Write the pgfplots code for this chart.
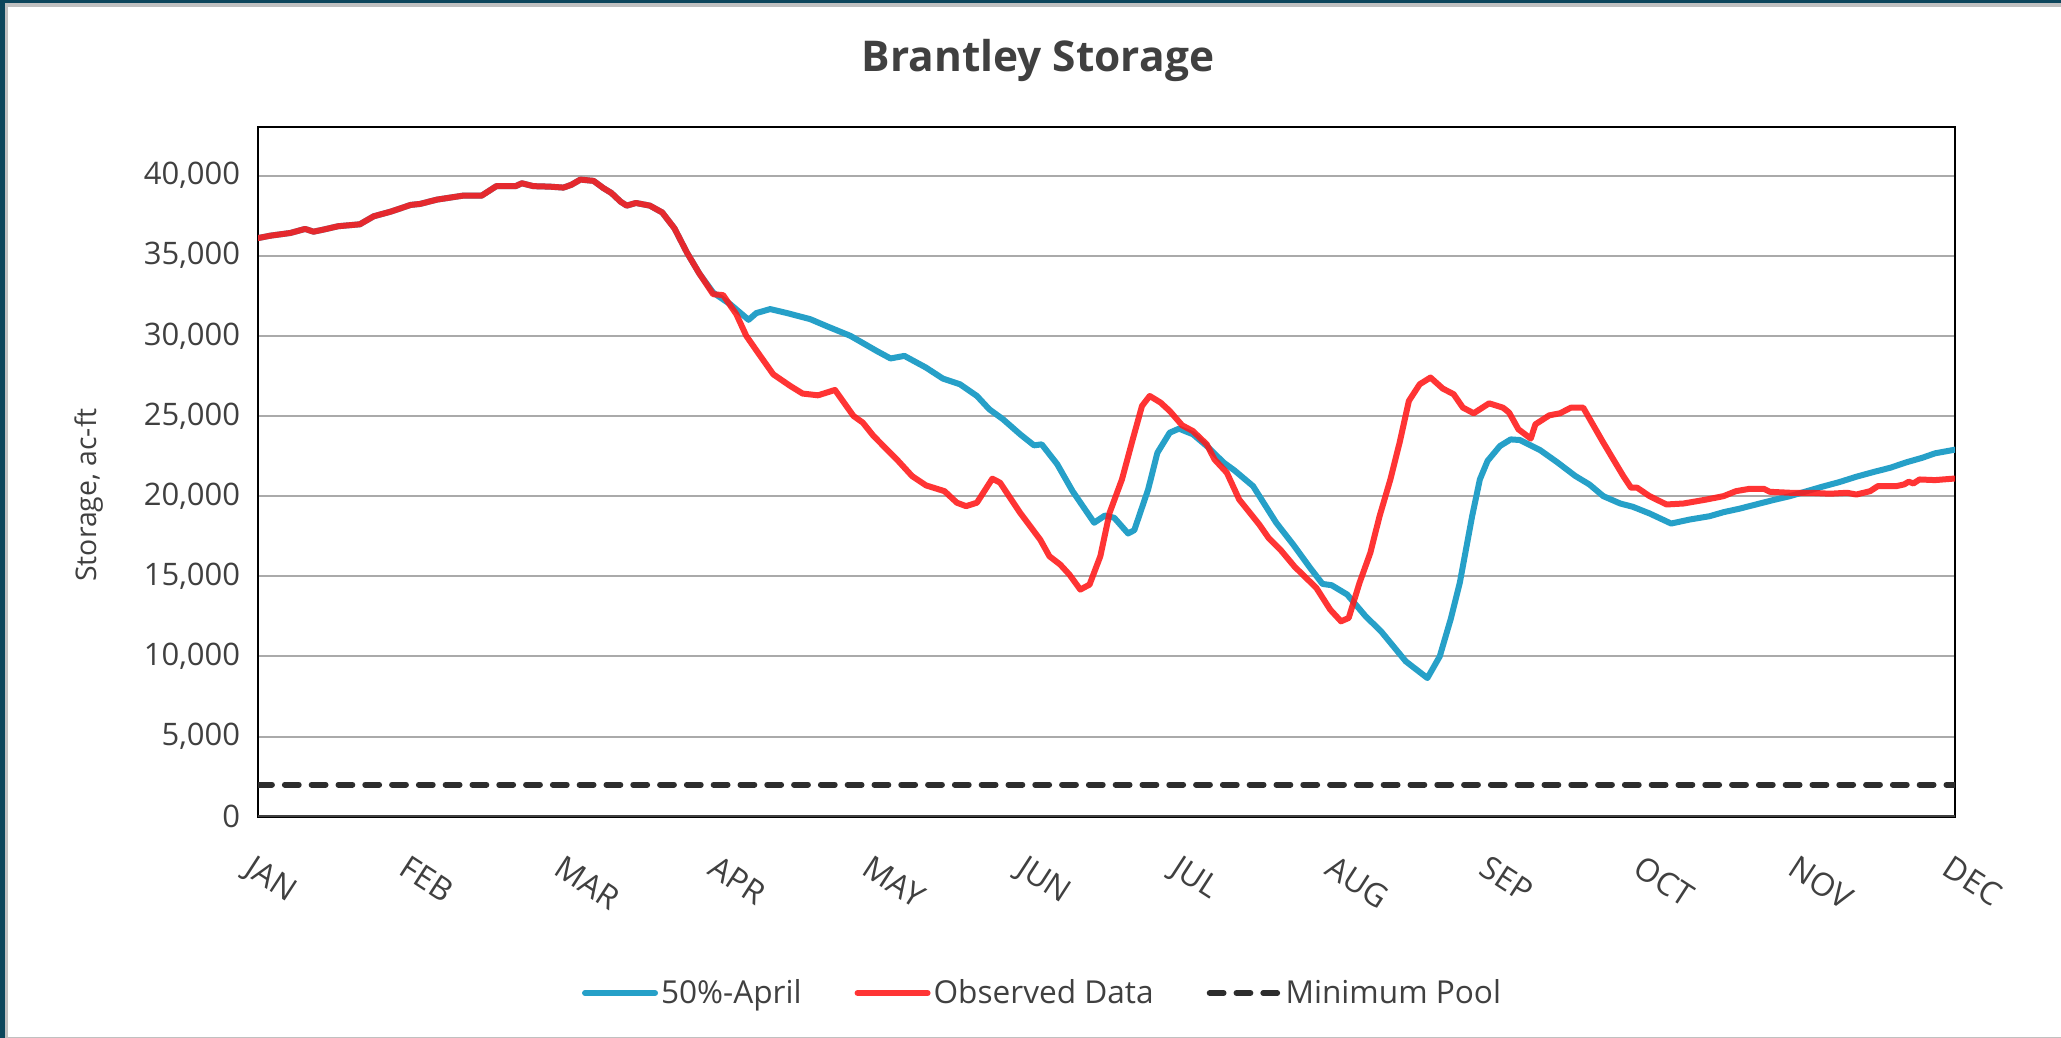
\documentclass[border=0pt]{standalone}
\usepackage{fontspec}
\setmainfont{Open Sans}
\usepackage{pgfplots}
\usepackage{pgfplotstable}
\pgfplotsset{compat=1.18}
\definecolor{bluel}{RGB}{38,160,200}
\definecolor{redl}{RGB}{255,25,25}
\definecolor{txt}{RGB}{64,64,64}
\definecolor{framec}{RGB}{12,70,92}
\definecolor{gridc}{RGB}{170,170,170}
\definecolor{innerc}{RGB}{192,192,192}

\pgfplotstableread{
m v
0 36100
0.08 36250
0.21 36420
0.305 36670
0.36 36500
0.42 36620
0.52 36840
0.66 36960
0.75 37460
0.86 37750
0.99 38170
1.05 38230
1.16 38500
1.33 38750
1.45 38750
1.545 39340
1.67 39340
1.71 39520
1.785 39340
1.89 39310
1.98 39250
2.03 39420
2.09 39750
2.175 39670
2.24 39210
2.29 38920
2.35 38375
2.39 38125
2.45 38290
2.54 38125
2.62 37700
2.70 36700
2.78 35200
2.86 33900
2.95 32600
3.015 32540
3.10 31360
3.165 30000
3.24 28960
3.34 27600
3.45 26875
3.53 26400
3.63 26290
3.74 26625
3.86 25000
3.92 24590
3.99 23750
4.14 22300
4.24 21250
4.33 20670
4.45 20310
4.53 19590
4.59 19375
4.66 19590
4.76 21090
4.81 20840
4.94 18960
5.07 17290
5.13 16250
5.20 15730
5.26 15100
5.33 14170
5.39 14480
5.46 16250
5.52 18960
5.60 21040
5.67 23540
5.73 25625
5.78 26250
5.85 25840
5.91 25310
5.99 24420
6.06 24060
6.15 23230
6.20 22290
6.28 21460
6.36 19790
6.49 18230
6.55 17400
6.63 16625
6.72 15590
6.86 14275
6.95 12920
7.02 12190
7.07 12400
7.14 14590
7.21 16460
7.27 18750
7.34 21040
7.40 23340
7.46 25940
7.53 26980
7.60 27400
7.68 26710
7.75 26360
7.81 25525
7.88 25170
7.98 25790
8.07 25520
8.11 25210
8.17 24170
8.25 23590
8.28 24480
8.37 25040
8.44 25170
8.51 25520
8.59 25520
8.72 23340
8.85 21250
8.90 20525
8.94 20525
9.02 20000
9.13 19480
9.24 19540
9.39 19790
9.50 20000
9.58 20310
9.67 20460
9.76 20460
9.80 20270
9.93 20210
10.06 20210
10.19 20150
10.30 20210
10.36 20100
10.45 20310
10.50 20625
10.62 20625
10.67 20730
10.70 20900
10.73 20790
10.77 21040
10.87 21000
11.0 21100
}\observed

\pgfplotstableread{
m v
0 36100
0.08 36250
0.21 36420
0.305 36670
0.36 36500
0.42 36620
0.52 36840
0.66 36960
0.75 37460
0.86 37750
0.99 38170
1.05 38230
1.16 38500
1.33 38750
1.45 38750
1.545 39340
1.67 39340
1.71 39520
1.785 39340
1.89 39310
1.98 39250
2.03 39420
2.09 39750
2.175 39670
2.24 39210
2.29 38920
2.35 38375
2.39 38125
2.45 38290
2.54 38125
2.62 37700
2.70 36700
2.78 35200
2.86 33900
2.95 32700
3.06 31980
3.18 31000
3.23 31420
3.32 31670
3.43 31420
3.58 31040
3.69 30590
3.84 30000
4.01 29060
4.10 28590
4.19 28750
4.33 28020
4.44 27330
4.55 26980
4.66 26250
4.74 25420
4.83 24790
4.94 23860
5.03 23170
5.08 23230
5.18 22000
5.28 20310
5.42 18340
5.49 18790
5.55 18650
5.64 17670
5.68 17875
5.77 20420
5.83 22710
5.91 23960
5.97 24210
6.06 23860
6.15 23125
6.26 22090
6.33 21600
6.45 20625
6.60 18340
6.71 16980
6.82 15525
6.90 14525
6.96 14440
7.06 13860
7.18 12500
7.28 11560
7.44 9690
7.58 8650
7.66 10000
7.73 12290
7.79 14590
7.87 18750
7.92 21040
7.97 22200
8.05 23125
8.12 23540
8.18 23500
8.31 22875
8.42 22125
8.54 21250
8.63 20730
8.72 20000
8.83 19540
8.91 19340
9.02 18920
9.16 18290
9.28 18540
9.41 18750
9.50 19000
9.60 19210
9.71 19480
9.82 19750
9.93 20000
10.04 20310
10.14 20590
10.25 20875
10.36 21210
10.47 21500
10.58 21770
10.69 22125
10.79 22400
10.87 22670
11.0 22900
}\april

\begin{document}
\begin{tikzpicture}
\useasboundingbox (0,0) rectangle (1030.5pt,519pt);
\fill[white] (0,0) rectangle (1030.5pt,519pt);
\fill[innerc] (0,0) rectangle (1030.5pt,0.6pt);
\fill[framec] (0,0) rectangle (2.3pt,519pt);
\fill[framec] (0,517.4pt) rectangle (1030.5pt,519pt);
\fill[innerc] (2.3pt,0) rectangle (4pt,517.4pt);
\fill[innerc] (2.3pt,515.6pt) rectangle (1030.5pt,517.4pt);

\node[font=\bfseries\fontsize{21.2}{25}\selectfont, text=txt] at (519pt,488.75pt) {Brantley Storage};
\node[rotate=90, font=\fontsize{14.2}{17}\selectfont, text=txt] at (44.5pt,271.5pt) {Storage, ac-ft};

\begin{axis}[
  at={(129pt,110.65pt)}, anchor=south west,
  scale only axis, width=848.5pt, height=344.6pt,
  xmin=0, xmax=11, ymin=0, ymax=43000,
  xtick={0,1,2,3,4,5,6,7,8,9,10,11},
  xticklabels={JAN,FEB,MAR,APR,MAY,JUN,JUL,AUG,SEP,OCT,NOV,DEC},
  ytick={0,5000,10000,15000,20000,25000,30000,35000,40000},
  scaled y ticks=false,
  /pgf/number format/1000 sep={,},
  /pgf/number format/assume math mode=true,
  major tick length=0pt,
  tick style={draw=none},
  ymajorgrids,
  major grid style={draw=gridc, line width=1pt},
  axis line style={black, line width=1pt},
  yticklabel style={font=\fontsize{15.5}{18}\selectfont, text=txt, anchor=east, inner sep=0pt, xshift=-8.75pt},
  xticklabel style={font=\fontsize{16}{18}\selectfont, text=txt, anchor=north west, inner sep=0pt, xshift=-1pt, yshift=-18.6pt, rotate=-33},
  legend style={at={(0.4626,-0.2558)}, anchor=center, draw=none, fill=none,
    font=\fontsize{15.8}{18}\selectfont, text=txt,
    /tikz/every even column/.append style={column sep=25pt},
    nodes={inner sep=1.5pt}},
  legend columns=3,
  legend image code/.code={\draw[#1] (0pt,0pt) -- (35pt,0pt);},
]
\addplot[bluel, line width=3pt, line join=round, line cap=round] table[x=m,y=v] {\april};
\addlegendentry{50\%-April}
\addplot[redl, line width=3pt, line join=round, line cap=round, opacity=0.88] table[x=m,y=v] {\observed};
\addlegendentry{Observed Data}
\addplot[txt!70!black, line width=2.9pt, line cap=round, dash pattern=on 7pt off 6.4pt] coordinates {(0,2000) (11,2000)};
\addlegendentry{Minimum Pool}
\draw[line width=1.5pt, draw=txt] (rel axis cs:0,0) -- (rel axis cs:1,0);
\end{axis}
\end{tikzpicture}
\end{document}
